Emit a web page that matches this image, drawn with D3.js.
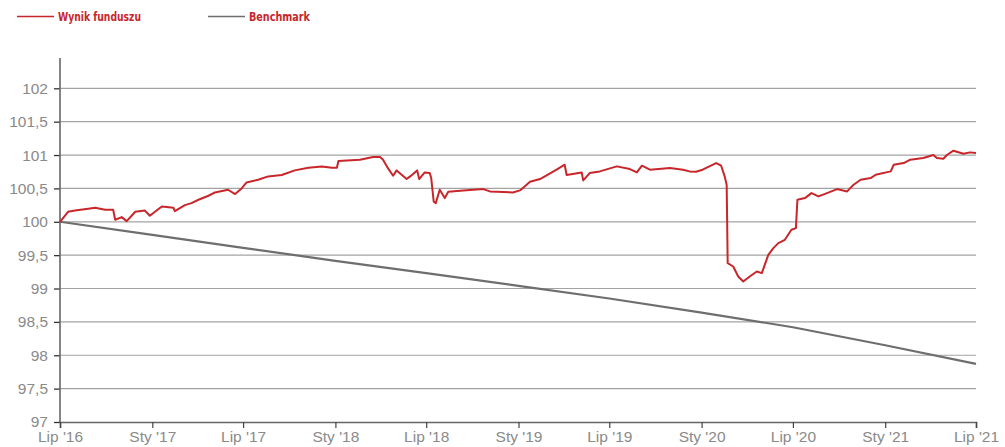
<!DOCTYPE html>
<html>
<head>
<meta charset="utf-8">
<script src="https://cdn.jsdelivr.net/npm/d3@7"></script>
<style>
  body { margin: 0; background: #fff; }
  svg { display: block; }
  .axis text { font-family: "Liberation Sans", Arial, sans-serif; font-size: 15.5px; fill: #8a8a8a; }
  .legend text { font-family: "Liberation Sans Narrow", "DejaVu Sans Condensed", sans-serif; font-weight: bold; font-size: 12.5px; fill: #c8262a; }
</style>
</head>
<body>
<div id="chart"></div>
<script>
// fund result
var fundDates = ['2016-07-01','2016-07-17','2016-07-31','2016-08-30','2016-09-09','2016-09-29','2016-10-15','2016-10-19',
  '2016-11-01','2016-11-11','2016-11-28','2016-12-17','2016-12-27','2017-01-20','2017-02-12','2017-02-15','2017-03-07',
  '2017-03-20','2017-04-03','2017-04-23','2017-05-06','2017-06-01','2017-06-15','2017-06-28','2017-07-08','2017-07-31',
  '2017-08-20','2017-09-16','2017-10-12','2017-11-08','2017-12-05','2017-12-25','2018-01-04','2018-01-07','2018-02-19',
  '2018-03-17','2018-03-31','2018-04-06','2018-04-16','2018-04-26','2018-05-03','2018-05-23','2018-05-30','2018-06-13',
  '2018-06-17','2018-06-28','2018-07-08','2018-07-11','2018-07-16','2018-07-20','2018-07-28','2018-08-07','2018-08-14',
  '2018-09-13','2018-10-23','2018-11-05','2018-12-21','2019-01-04','2019-01-24','2019-02-13','2019-03-18','2019-04-03',
  '2019-04-07','2019-05-07','2019-05-10','2019-05-23','2019-06-12','2019-07-16','2019-08-11','2019-08-25','2019-09-04',
  '2019-09-20','2019-10-30','2019-11-25','2019-12-08','2019-12-21','2020-01-03','2020-01-30','2020-02-09','2020-02-16',
  '2020-02-20','2020-02-22','2020-03-04','2020-03-14','2020-03-24','2020-04-06','2020-04-20','2020-04-30','2020-05-13',
  '2020-05-23','2020-06-02','2020-06-15','2020-06-28','2020-07-07','2020-07-10','2020-07-25','2020-08-07','2020-08-21',
  '2020-09-07','2020-09-27','2020-10-17','2020-10-30','2020-11-13','2020-12-03','2020-12-13','2021-01-12','2021-01-18',
  '2021-02-07','2021-02-20','2021-03-18','2021-04-07','2021-04-14','2021-04-27','2021-05-04','2021-05-17','2021-06-06',
  '2021-06-19','2021-07-01'];
var fundValues = [100.00,100.15,100.17,100.20,100.21,100.18,100.18,100.03,
  100.07,100.01,100.15,100.17,100.09,100.23,100.21,100.16,100.25,
  100.28,100.33,100.39,100.44,100.48,100.415,100.50,100.59,100.63,
  100.68,100.70,100.77,100.81,100.83,100.81,100.81,100.91,100.93,
  100.97,100.97,100.93,100.80,100.69,100.77,100.64,100.68,100.77,
  100.64,100.74,100.73,100.655,100.30,100.28,100.48,100.355,100.45,
  100.47,100.49,100.455,100.44,100.47,100.60,100.64,100.78,100.855,
  100.70,100.74,100.62,100.73,100.755,100.83,100.79,100.74,100.84,
  100.78,100.805,100.78,100.755,100.75,100.78,100.88,100.84,100.68,
  100.55,99.38,99.33,99.18,99.105,99.18,99.255,99.23,99.505,
  99.605,99.68,99.73,99.88,99.905,100.33,100.355,100.43,100.38,
  100.43,100.49,100.455,100.555,100.63,100.655,100.705,100.755,100.855,
  100.88,100.93,100.955,101.00,100.955,100.945,101.00,101.065,101.02,
  101.04,101.03];

// benchmark
var benchDates = ['2016-07-01','2017-01-01','2017-07-01','2018-01-01','2018-07-01','2019-01-01',
  '2019-07-01','2020-01-01','2020-07-01','2021-01-01','2021-07-01'];
var benchValues = [100.00,99.805,99.61,99.415,99.23,99.04,98.85,98.64,98.42,98.15,97.87];

var yTicks = [97, 97.5, 98, 98.5, 99, 99.5, 100, 100.5, 101, 101.5, 102];
var xTickDates = ['2016-07-01','2017-01-01','2017-07-01','2018-01-01','2018-07-01','2019-01-01',
  '2019-07-01','2020-01-01','2020-07-01','2021-01-01','2021-07-01'];
var xTickLabels = ["Lip '16","Sty '17","Lip '17","Sty '18","Lip '18","Sty '19",
  "Lip '19","Sty '20","Lip '20","Sty '21","Lip '21"];
var seriesNames = ['Wynik funduszu', 'Benchmark'];
var seriesColors = ['#c8262a', '#6e6e6e'];

var width = 1005, height = 447;
var margin = {top: 58, right: 29, bottom: 25, left: 60};
var parse = d3.timeParse('%Y-%m-%d');

var svg = d3.select('#chart').append('svg')
  .attr('width', width)
  .attr('height', height);

var x = d3.scaleTime()
  .domain([parse('2016-07-01'), parse('2021-07-01')])
  .range([margin.left, width - margin.right]);
var y = d3.scaleLinear()
  .domain([97, 102])
  .range([height - margin.bottom, 88.3]);

// grid lines
svg.append('g')
  .selectAll('line')
  .data(yTicks.filter(function(d) { return d > 97; }))
  .enter().append('line')
    .attr('x1', margin.left)
    .attr('x2', width - margin.right)
    .attr('y1', function(d) { return y(d); })
    .attr('y2', function(d) { return y(d); })
    .attr('stroke', '#a3a3a3')
    .attr('stroke-width', 1.2);

// y axis
var yAxis = svg.append('g')
  .attr('class', 'axis')
  .attr('transform', 'translate(' + margin.left + ',0)')
  .call(d3.axisLeft(y)
    .tickValues(yTicks)
    .tickSize(6)
    .tickPadding(6)
    .tickFormat(function(d) { return String(d).replace('.', ','); }));
yAxis.select('.domain').remove();
yAxis.selectAll('.tick line').attr('stroke', '#333').attr('stroke-width', 1.3);
yAxis.append('line')
  .attr('x1', 0).attr('x2', 0)
  .attr('y1', margin.top).attr('y2', height - margin.bottom)
  .attr('stroke', '#666')
  .attr('stroke-width', 1.6);

// x axis
var xAxis = svg.append('g')
  .attr('class', 'axis')
  .attr('transform', 'translate(0,' + (height - margin.bottom) + ')')
  .call(d3.axisBottom(x)
    .tickValues(xTickDates.map(parse))
    .tickSize(6)
    .tickPadding(3)
    .tickFormat(function(d, i) { return xTickLabels[i]; }));
xAxis.select('.domain').attr('stroke', '#666').attr('stroke-width', 1.6);
xAxis.selectAll('.tick line').attr('stroke', '#444').attr('stroke-width', 1.2);

// lines
var line = d3.line()
  .x(function(d) { return x(d.date); })
  .y(function(d) { return y(d.value); });

var benchData = benchDates.map(function(d, i) { return {date: parse(d), value: benchValues[i]}; });
var fundData = fundDates.map(function(d, i) { return {date: parse(d), value: fundValues[i]}; });

svg.append('path')
  .datum(benchData)
  .attr('d', line)
  .attr('fill', 'none')
  .attr('stroke', seriesColors[1])
  .attr('stroke-width', 2.2);

svg.append('path')
  .datum(fundData)
  .attr('d', line)
  .attr('fill', 'none')
  .attr('stroke', seriesColors[0])
  .attr('stroke-width', 2)
  .attr('stroke-linejoin', 'round');

// legend
var legend = svg.append('g').attr('class', 'legend');
var legendX = [17, 208];
var legendTextWidth = [83, 61];
seriesNames.forEach(function(name, i) {
  legend.append('line')
    .attr('x1', legendX[i]).attr('x2', legendX[i] + 37)
    .attr('y1', 16.5).attr('y2', 16.5)
    .attr('stroke', seriesColors[i])
    .attr('stroke-width', 1.3);
  legend.append('text')
    .attr('x', legendX[i] + 41)
    .attr('y', 21)
    .attr('textLength', legendTextWidth[i])
    .attr('lengthAdjust', 'spacingAndGlyphs')
    .text(name);
});
</script>
</body>
</html>
